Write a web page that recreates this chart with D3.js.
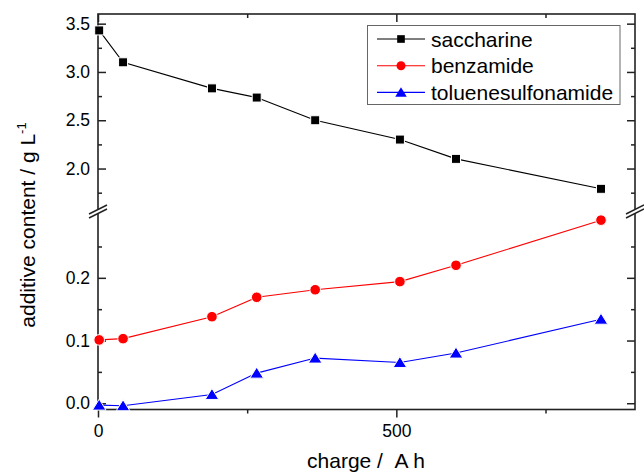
<!DOCTYPE html>
<html>
<script src='https://d3js.org/d3.v7.min.js'></script>

<style>
    body {
        margin: 0;
        background: white;
    }

    text {
        font-family: "Liberation Sans", Arial, sans-serif;
        fill: black;
    }

    .tick line {
        stroke: #222;
        stroke-width: 1.5;
    }

    .tick text {
        font-size: 17.5px;
    }
</style>

<body onload='init()'>
    <svg width=644 height=473></svg>
    <script>
        // values
        const charge = [2, 42, 191, 266, 364, 506, 600, 843]
        const saccharine = [3.43, 3.10, 2.83, 2.735, 2.50, 2.30, 2.10, 1.79]
        const benzamide = [0.101, 0.103, 0.138, 0.169, 0.181, 0.194, 0.220, 0.292]
        const toluenesulfonamide = [-0.003, -0.004, 0.014, 0.048, 0.072, 0.065, 0.080, 0.134]

        const seriesNames = ['saccharine', 'benzamide', 'toluenesulfonamide']
        const seriesColors = ['#000000', '#ff0000', '#0000ff']

        const xTicks = [0, 500]
        const xMinor = [250, 750]
        const upperTicks = [2.0, 2.5, 3.0, 3.5]
        const upperMinor = [1.75, 2.25, 2.75, 3.25]
        const lowerTicks = [0.0, 0.1, 0.2]
        const lowerMinor = [0.05, 0.15, 0.25]

        function init() {
            var svg = d3.select('svg')

            var left = 98, right = 635, top = 14, bottom = 409.5, brk = 212

            var x = d3.scaleLinear().domain([0, 900]).range([left, right])
            var yUp = d3.scaleLinear().domain([1.55, 3.6]).range([brk, top])
            var yLow = d3.scaleLinear().domain([-0.01, 0.305]).range([bottom, brk])

            // ticks, major + minor, on all four sides
            function addAxis(axis, tx, ty) {
                var g = svg.append('g').attr('transform', 'translate(' + tx + ',' + ty + ')').call(axis)
                g.select('.domain').remove()
                return g
            }

            addAxis(d3.axisBottom(x).tickValues(xTicks).tickSize(8).tickPadding(7).tickSizeOuter(0), 0, bottom)
            addAxis(d3.axisBottom(x).tickValues(xMinor).tickSize(4).tickFormat('').tickSizeOuter(0), 0, bottom)
            addAxis(d3.axisTop(x).tickValues(xTicks).tickSize(-8).tickFormat('').tickSizeOuter(0), 0, top)
            addAxis(d3.axisTop(x).tickValues(xMinor).tickSize(-4).tickFormat('').tickSizeOuter(0), 0, top)

            var yScales = [[yUp, upperTicks, upperMinor], [yLow, lowerTicks, lowerMinor]]
            yScales.forEach(function (s) {
                addAxis(d3.axisLeft(s[0]).tickValues(s[1]).tickSize(-8).tickPadding(8).tickFormat(d3.format('.1f')).tickSizeOuter(0), left, 0)
                addAxis(d3.axisLeft(s[0]).tickValues(s[2]).tickSize(-4).tickFormat('').tickSizeOuter(0), left, 0)
                addAxis(d3.axisRight(s[0]).tickValues(s[1]).tickSize(-8).tickFormat('').tickSizeOuter(0), right, 0)
                addAxis(d3.axisRight(s[0]).tickValues(s[2]).tickSize(-4).tickFormat('').tickSizeOuter(0), right, 0)
            })

            // frame
            svg.append('rect')
                .attr('x', left).attr('y', top)
                .attr('width', right - left).attr('height', bottom - top)
                .attr('fill', 'none').attr('stroke', '#222').attr('stroke-width', 1.6)

            // axis break marks
            ;[left, right].forEach(function (bx) {
                var g = svg.append('g').attr('transform', 'translate(' + bx + ',' + brk + ')')
                g.append('path').attr('d', 'M-9,2L9,-7L9,-3L-9,6Z').attr('fill', 'white')
                g.append('path').attr('d', 'M-9,2L9,-7').attr('stroke', '#222').attr('stroke-width', 1.4)
                g.append('path').attr('d', 'M-9,6L9,-3').attr('stroke', '#222').attr('stroke-width', 1.4)
            })

            // series
            var series = [
                { name: seriesNames[0], values: saccharine, y: yUp },
                { name: seriesNames[1], values: benzamide, y: yLow },
                { name: seriesNames[2], values: toluenesulfonamide, y: yLow }
            ]

            var markers = [
                function (g) { return g.append('rect').attr('x', -4.5).attr('y', -4.5).attr('width', 9).attr('height', 9) },
                function (g) { return g.append('circle').attr('r', 5.3) },
                function (g) { return g.append('path').attr('d', 'M0,-6L6.8,5L-6.8,5Z') }
            ]

            series.forEach(function (s, i) {
                var line = d3.line()
                    .x(function (d, j) { return x(charge[j]) })
                    .y(function (d) { return s.y(d) })

                svg.append('path')
                    .datum(s.values)
                    .attr('d', line)
                    .attr('fill', 'none')
                    .attr('stroke', seriesColors[i])
                    .attr('stroke-width', 1.1)

                s.values.forEach(function (v, j) {
                    var g = svg.append('g').attr('transform', 'translate(' + x(charge[j]) + ',' + s.y(v) + ')')
                    markers[i](g).attr('fill', seriesColors[i]).attr('stroke', 'white').attr('stroke-width', 1)
                })
            })

            // legend
            svg.append('rect')
                .attr('x', 367.5).attr('y', 25.5)
                .attr('width', 252.5).attr('height', 79)
                .attr('fill', 'white').attr('stroke', '#666').attr('stroke-width', 1)

            seriesNames.forEach(function (name, i) {
                var ly = 39 + i * 26.7
                svg.append('line')
                    .attr('x1', 377).attr('x2', 425)
                    .attr('y1', ly).attr('y2', ly)
                    .attr('stroke', seriesColors[i]).attr('stroke-width', 1.1)
                var g = svg.append('g').attr('transform', 'translate(401,' + ly + ') scale(0.85)')
                markers[i](g).attr('fill', seriesColors[i])
                svg.append('text')
                    .attr('x', 431).attr('y', ly)
                    .attr('dominant-baseline', 'central')
                    .style('font-size', '21px')
                    .text(name)
            })

            // axis titles
            svg.append('text')
                .attr('text-anchor', 'middle')
                .attr('x', 366).attr('y', 468)
                .style('font-size', '21px')
                .text('charge /\u00a0\u00a0A h')

            var yt = svg.append('text')
                .attr('text-anchor', 'middle')
                .attr('transform', 'translate(35,225) rotate(-90)')
                .style('font-size', '21px')
            yt.append('tspan').text('additive content / g L')
            yt.append('tspan').attr('dy', -9).style('font-size', '13px').text('-1')
        }
    </script>
</body>

</html>
